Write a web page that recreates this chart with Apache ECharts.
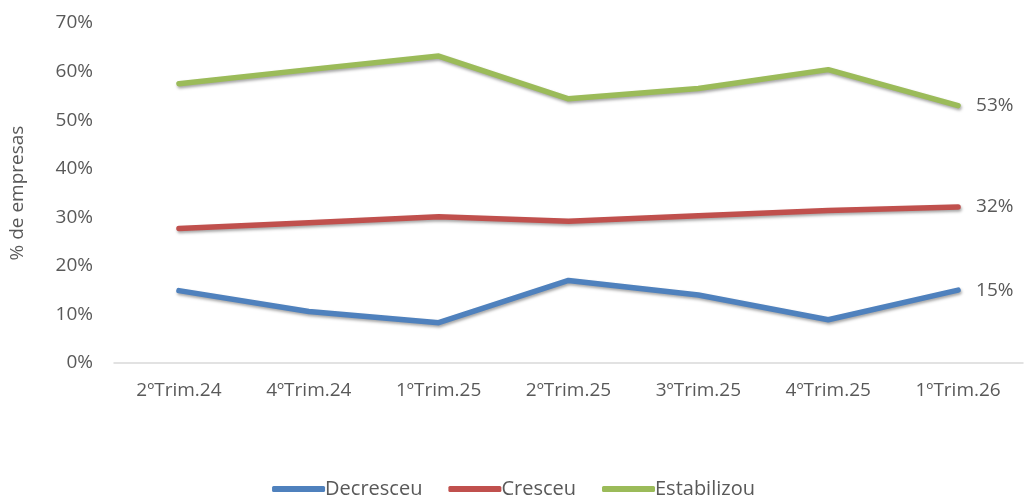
<!DOCTYPE html>
<html>
<head>
<meta charset="utf-8">
<script src="https://cdn.jsdelivr.net/npm/echarts@6/dist/echarts.min.js"></script>
<style>html,body{margin:0;padding:0;background:#fff;}#c{width:1027px;height:502px;}</style>
</head>
<body>
<div id="c"></div>
<script>
const categories = ['2ºTrim.24','4ºTrim.24','1ºTrim.25','2ºTrim.25','3ºTrim.25','4ºTrim.25','1ºTrim.26'];
const decresceu = [14.9, 10.6, 8.3, 17.0, 14.0, 8.9, 15.0];
const cresceu = [27.7, 28.9, 30.1, 29.2, 30.3, 31.4, 32.1];
const estabilizou = [57.5, 60.4, 63.2, 54.4, 56.5, 60.4, 53.0];
const seriesNames = ['Decresceu','Cresceu','Estabilizou'];
const colors = ['#4F81BD','#C0504D','#9BBB59'];
const font = '"Open Sans", Lato, sans-serif';

const chart = echarts.init(document.getElementById('c'));
function mk(name, data, color){
  return {
    name, type:'line', data, symbol:'none', smooth:false,
    lineStyle:{width:5.5, color, cap:'round', join:'round', shadowColor:'rgba(0,0,0,0.35)', shadowBlur:3, shadowOffsetY:2, shadowOffsetX:1},
    itemStyle:{color},
    endLabel:{show:true, distance:18, color:'#595959', fontSize:19, fontFamily:font,
      formatter:p=>Math.round(p.value)+'%'}
  };
}
chart.setOption({
  animation:false,
  color:colors,
  grid:{left:113, right:4, top:23, bottom:139, containLabel:false},
  legend:{bottom:-2, left:'center', itemWidth:53, itemHeight:6, itemGap:26, icon:'roundRect',
    textStyle:{color:'#595959', fontSize:20, fontFamily:font, padding:[0,0,0,-5]},
    data:seriesNames},
  xAxis:{type:'category', data:categories, boundaryGap:true,
    axisLine:{lineStyle:{color:'#D9D9D9', width:1.5}}, axisTick:{show:false},
    axisLabel:{color:'#595959', fontSize:19, fontFamily:font, margin:18}},
  yAxis:{type:'value', min:0, max:70, interval:10,
    name:'% de empresas', nameLocation:'middle', nameGap:87, nameRotate:90,
    nameTextStyle:{color:'#595959', fontSize:19, fontFamily:font},
    axisLine:{show:false}, axisTick:{show:false}, splitLine:{show:false},
    axisLabel:{color:'#595959', fontSize:19, fontFamily:font, formatter:'{value}%', margin:21}},
  series:[mk(seriesNames[0],decresceu,colors[0]), mk(seriesNames[1],cresceu,colors[1]), mk(seriesNames[2],estabilizou,colors[2])]
});
</script>
</body>
</html>
